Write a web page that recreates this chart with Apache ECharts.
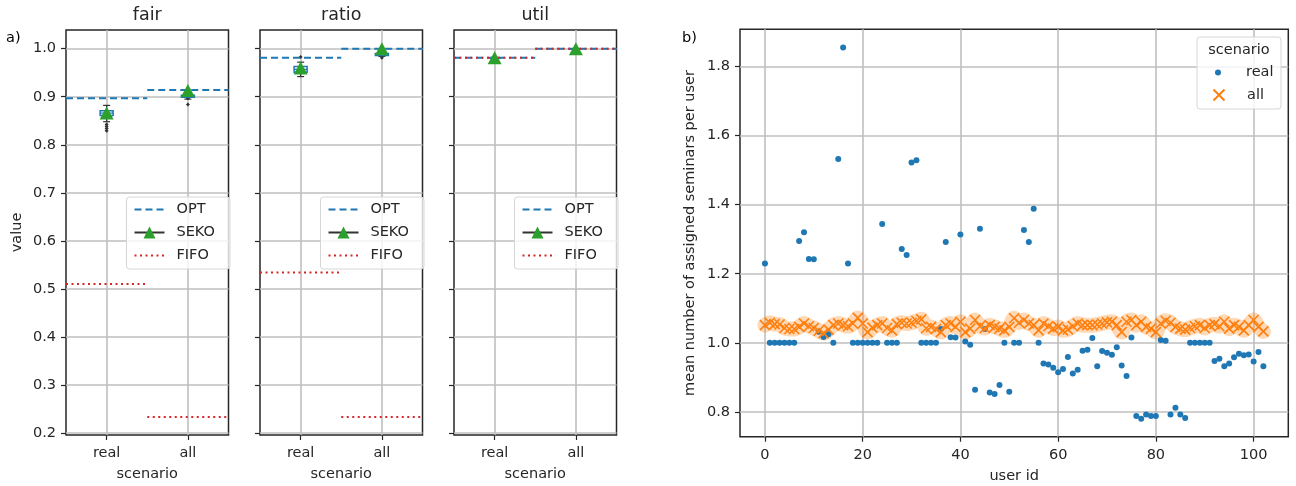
<!DOCTYPE html>
<html>
<head>
<meta charset="utf-8">
<script src="https://cdn.jsdelivr.net/npm/echarts@6/dist/echarts.min.js"></script>
<style>
html, body { margin: 0; padding: 0; background: #fff; }
#chart { width: 1296px; height: 486px; }
</style>
</head>
<body>
<div id="chart"></div>
<script>
// a) three panels: fair / ratio / util, per scenario
var scenarios = ['real', 'all'];
var valueTicks = [0.2, 0.3, 0.4, 0.5, 0.6, 0.7, 0.8, 0.9, 1.0];

var optFair = [0.897, 0.914];
var optRatio = [0.981, 1.0];
var optUtil = [0.981, 1.0];

var sekoFair = [0.866, 0.913];
var sekoRatio = [0.960, 1.0];
var sekoUtil = [0.981, 1.0];

var fifoFair = [0.510, 0.233];
var fifoRatio = [0.534, 0.233];
var fifoUtil = [0.981, 1.0];

// box stats [min, q1, median, q3, max]
var boxFair = [[0.848, 0.861, 0.866, 0.871, 0.882], [0.895, 0.899, 0.901, 0.903, 0.906]];
var boxRatio = [[0.942, 0.951, 0.957, 0.963, 0.972], [0.984, 0.986, 0.988, 0.990, 0.993]];
var boxUtil = [[0.980, 0.981, 0.981, 0.981, 0.982], [0.999, 1.0, 1.0, 1.0, 1.0]];

// outliers [scenario index, value]
var fliersFair = [[0, 0.842], [0, 0.838], [0, 0.834], [0, 0.829], [1, 0.897], [1, 0.884]];
var fliersRatio = [[0, 0.983], [1, 0.981], [1, 0.986]];
var fliersUtil = [];

// b) mean number of assigned seminars per user
var userTicks = [0, 20, 40, 60, 80, 100];
var seminarTicks = [0.8, 1.0, 1.2, 1.4, 1.6, 1.8];

var realVals = [
    1.23, 1, 1, 1, 1, 1, 1, 1.295, 1.32, 1.243,
    1.242, 1.032, 1.017, 1.025, 1, 1.532, 1.855, 1.23, 1, 1,
    1, 1, 1, 1, 1.344, 1, 1, 1, 1.272, 1.254,
    1.522, 1.529, 1, 1, 1, 1, 1.04, 1.292, 1.016, 1.015,
    1.314, 1.004, 0.994, 0.864, 1.33, 1.04, 0.856, 0.852, 0.878, 1,
    0.858, 1, 1, 1.327, 1.292, 1.388, 1, 0.94, 0.937, 0.928,
    0.915, 0.924, 0.959, 0.911, 0.922, 0.977, 0.98, 1.014, 0.932, 0.976,
    0.971, 0.965, 0.987, 0.934, 0.904, 1.015, 0.788, 0.78, 0.792, 0.788,
    0.788, 1.008, 1.006, 0.792, 0.812, 0.792, 0.782, 1, 1, 1,
    1, 1, 0.947, 0.954, 0.932, 0.94, 0.958, 0.968, 0.964, 0.966,
    0.946, 0.973, 0.932
];

var allVals = [
    1.051, 1.058, 1.054, 1.053, 1.043, 1.04, 1.04, 1.046, 1.056, 1.048,
    1.043, 1.035, 1.028, 1.038, 1.051, 1.056, 1.051, 1.048, 1.056, 1.072,
    1.056, 1.031, 1.044, 1.051, 1.056, 1.043, 1.036, 1.054, 1.058, 1.056,
    1.058, 1.063, 1.068, 1.042, 1.046, 1.04, 1.031, 1.051, 1.056, 1.046,
    1.061, 1.031, 1.041, 1.066, 1.048, 1.043, 1.051, 1.046, 1.041, 1.036,
    1.046, 1.071, 1.058, 1.066, 1.056, 1.051, 1.036, 1.056, 1.048, 1.041,
    1.046, 1.036, 1.039, 1.048, 1.056, 1.051, 1.051, 1.051, 1.053, 1.056,
    1.059, 1.061, 1.051, 1.031, 1.061, 1.066, 1.051, 1.061, 1.046, 1.041,
    1.031, 1.056, 1.064, 1.058, 1.046, 1.041, 1.038, 1.043, 1.048, 1.051,
    1.043, 1.051, 1.054, 1.048, 1.061, 1.041, 1.051, 1.046, 1.036, 1.051,
    1.066, 1.046, 1.033
];

var textColor = '#262626';
var gridColor = '#bfbfbf';
var frameColor = '#262626';
var fontSize = 14.5;

var panels = [
    { title: 'fair', opt: optFair, seko: sekoFair, fifo: fifoFair, box: boxFair, fliers: fliersFair },
    { title: 'ratio', opt: optRatio, seko: sekoRatio, fifo: fifoRatio, box: boxRatio, fliers: fliersRatio },
    { title: 'util', opt: optUtil, seko: sekoUtil, fifo: fifoUtil, box: boxUtil, fliers: fliersUtil }
];
var panelLefts = [66, 260, 454];
var panelWidth = 162.5;

// horizontal segment spanning each scenario band
function segments(vals) {
    var d = [];
    vals.forEach(function (v, i) {
        if (i > 0) d.push([i - 0.5, null]);
        d.push([i - 0.5, v], [i + 0.5, v]);
    });
    return d;
}

// box + whiskers drawn through the axes
function renderBox(params, api) {
    var x = api.value(0);
    var pMin = api.coord([x, api.value(1)]);
    var pQ1 = api.coord([x, api.value(2)]);
    var pMed = api.coord([x, api.value(3)]);
    var pQ3 = api.coord([x, api.value(4)]);
    var pMax = api.coord([x, api.value(5)]);
    var cx = pMin[0], hb = 6.5, hc = 3.5;
    var black = { stroke: '#333', lineWidth: 1.2 };
    return {
        type: 'group',
        children: [
            { type: 'line', shape: { x1: cx, y1: pMin[1], x2: cx, y2: pQ1[1] }, style: black },
            { type: 'line', shape: { x1: cx, y1: pQ3[1], x2: cx, y2: pMax[1] }, style: black },
            { type: 'line', shape: { x1: cx - hc, y1: pMin[1], x2: cx + hc, y2: pMin[1] }, style: black },
            { type: 'line', shape: { x1: cx - hc, y1: pMax[1], x2: cx + hc, y2: pMax[1] }, style: black },
            { type: 'rect', shape: { x: cx - hb, y: pQ3[1], width: 2 * hb, height: pQ1[1] - pQ3[1] },
              style: { fill: 'rgba(255,255,255,0.9)', stroke: '#1f77b4', lineWidth: 1.5 } },
            { type: 'line', shape: { x1: cx - hb, y1: pMed[1], x2: cx + hb, y2: pMed[1] },
              style: { stroke: '#1f77b4', lineWidth: 1.2 } }
        ]
    };
}

var grids = [], xAxes = [], yAxes = [], series = [], legends = [], graphics = [];

panels.forEach(function (p, k) {
    grids.push({
        left: panelLefts[k], top: 30, width: panelWidth, height: 405,
        show: true, borderColor: frameColor, borderWidth: 1.5, backgroundColor: '#fff',
        outerBoundsMode: 'none'
    });
    xAxes.push({
        gridIndex: k, type: 'value', min: -0.5, max: 1.5,
        axisLine: { show: false, onZero: false },
        axisTick: { show: true, customValues: [0, 1], length: 5, lineStyle: { color: frameColor, width: 1.2 } },
        axisLabel: {
            customValues: [0, 1], margin: 11, fontSize: fontSize, color: textColor,
            formatter: function (v) { return scenarios[v]; }
        },
        splitLine: { show: true, lineStyle: { color: gridColor, width: 1.6 } },
        name: 'scenario', nameLocation: 'middle', nameGap: 32,
        nameTextStyle: { fontSize: fontSize, color: textColor }
    });
    yAxes.push({
        gridIndex: k, type: 'value', min: 0.1955, max: 1.039,
        axisLine: { show: false, onZero: false },
        axisTick: { show: true, customValues: valueTicks, length: 5, lineStyle: { color: frameColor, width: 1.2 } },
        axisLabel: {
            show: k === 0, customValues: valueTicks, margin: 10, fontSize: fontSize, color: textColor,
            formatter: function (v) { return v.toFixed(1); }
        },
        splitLine: { show: true, lineStyle: { color: gridColor, width: 1.6 } },
        name: k === 0 ? 'value' : '', nameLocation: 'middle', nameGap: 41,
        nameTextStyle: { fontSize: fontSize, color: textColor }
    });

    series.push({
        type: 'custom', xAxisIndex: k, yAxisIndex: k, z: 3, silent: true,
        data: p.box.map(function (b, i) { return [i].concat(b); }),
        encode: { x: 0, y: [1, 2, 3, 4, 5] },
        renderItem: renderBox
    });
    series.push({
        type: 'scatter', xAxisIndex: k, yAxisIndex: k, silent: true, z: 2,
        symbol: 'diamond', symbolSize: 4, itemStyle: { color: '#333', opacity: 1 },
        data: p.fliers
    });
    series.push({
        name: 'OPT', type: 'line', xAxisIndex: k, yAxisIndex: k, z: 3,
        symbol: 'none', connectNulls: false,
        lineStyle: { color: '#1f77b4', width: 2, type: [7, 4] },
        itemStyle: { color: '#1f77b4' },
        data: segments(p.opt)
    });
    series.push({
        name: 'FIFO', type: 'line', xAxisIndex: k, yAxisIndex: k, z: 4,
        symbol: 'none', connectNulls: false,
        lineStyle: { color: '#d62728', width: 2, type: [2, 3.5] },
        itemStyle: { color: '#d62728' },
        data: segments(p.fifo)
    });
    series.push({
        name: 'SEKO', type: 'line', xAxisIndex: k, yAxisIndex: k, z: 6,
        symbol: 'triangle', symbolSize: [14, 13], showSymbol: true,
        itemStyle: { color: '#2ca02c', opacity: 1 },
        lineStyle: { opacity: 0 },
        data: p.seko.map(function (v, i) { return [i, v]; })
    });

    legends.push({
        data: [
            { name: 'OPT', itemStyle: { opacity: 0 } },
            { name: 'SEKO', lineStyle: { color: '#333', width: 2, opacity: 1 } },
            { name: 'FIFO', itemStyle: { opacity: 0 } }
        ],
        orient: 'vertical', left: panelLefts[k] + 60.5, top: 197,
        itemWidth: 30, itemHeight: 15, itemGap: 8, padding: [5, 15, 6, 7],
        textStyle: { fontSize: fontSize, color: textColor, padding: [0, 0, 0, 7] },
        backgroundColor: 'rgba(255,255,255,0.8)', borderColor: '#d6d6d6', borderWidth: 1, borderRadius: 3,
        selectedMode: false
    });

    graphics.push({
        type: 'text', x: panelLefts[k] + panelWidth / 2, y: 15, z: 10,
        style: { text: p.title, align: 'center', verticalAlign: 'middle', fontSize: 17.5, fontFamily: 'DejaVu Sans', fill: textColor }
    });
});

// b) scatter panel
grids.push({
    left: 740, top: 29.3, width: 548.3, height: 407.4,
    show: true, borderColor: frameColor, borderWidth: 1.5, backgroundColor: '#fff',
    outerBoundsMode: 'none'
});
xAxes.push({
    gridIndex: 3, type: 'value', min: -5.1, max: 107.1,
    axisLine: { show: false, onZero: false },
    axisTick: { show: true, customValues: userTicks, length: 5, lineStyle: { color: frameColor, width: 1.2 } },
    axisLabel: { customValues: userTicks, margin: 11, fontSize: fontSize, color: textColor },
    splitLine: { show: true, lineStyle: { color: gridColor, width: 1.6 } },
    name: 'user id', nameLocation: 'middle', nameGap: 32,
    nameTextStyle: { fontSize: fontSize, color: textColor }
});
yAxes.push({
    gridIndex: 3, type: 'value', min: 0.728, max: 1.908,
    axisLine: { show: false, onZero: false },
    axisTick: { show: true, customValues: seminarTicks, length: 5, lineStyle: { color: frameColor, width: 1.2 } },
    axisLabel: {
        customValues: seminarTicks, margin: 10, fontSize: fontSize, color: textColor,
        formatter: function (v) { return v.toFixed(1); }
    },
    splitLine: { show: true, lineStyle: { color: gridColor, width: 1.6 } },
    name: 'mean number of assigned seminars per user', nameLocation: 'middle', nameGap: 42,
    nameTextStyle: { fontSize: fontSize, color: textColor }
});

series.push({
    name: 'all band', type: 'line', xAxisIndex: 3, yAxisIndex: 3, z: 1, silent: true,
    symbol: 'none', smooth: 0.3,
    lineStyle: { color: 'rgba(255,127,14,0.3)', width: 15, cap: 'round', join: 'round' },
    data: allVals.map(function (v, i) { return [i, v]; })
});
series.push({
    name: 'real', type: 'scatter', xAxisIndex: 3, yAxisIndex: 3, z: 2,
    symbol: 'circle', symbolSize: 6,
    itemStyle: { color: '#1f77b4', opacity: 1 },
    data: realVals.map(function (v, i) { return [i, v]; })
});
series.push({
    name: 'all', type: 'scatter', xAxisIndex: 3, yAxisIndex: 3, z: 3,
    symbol: 'path://M0,0L10,10M10,0L0,10', symbolSize: 10,
    itemStyle: { color: 'rgba(0,0,0,0)', borderColor: '#ff7f0e', borderWidth: 1.6, opacity: 1 },
    data: allVals.map(function (v, i) { return [i, v]; })
});

legends.push({
    data: ['real'], left: 1215, top: 65, itemWidth: 6, itemHeight: 6, padding: 0,
    textStyle: { fontSize: fontSize, color: textColor, padding: [0, 0, 0, 20] }, selectedMode: false
});
legends.push({
    data: ['all'], left: 1212.5, top: 87.5, itemWidth: 11, itemHeight: 11, padding: 0,
    textStyle: { fontSize: fontSize, color: textColor, padding: [0, 0, 0, 17.5] }, selectedMode: false
});

graphics.push({
    type: 'rect', z: 3, silent: true,
    shape: { x: 1197, y: 37, width: 84, height: 72, r: 3 },
    style: { fill: 'rgba(255,255,255,0.8)', stroke: '#d6d6d6', lineWidth: 1 }
});
graphics.push({
    type: 'text', x: 1239, y: 50, z: 10,
    style: { text: 'scenario', align: 'center', verticalAlign: 'middle', fontSize: fontSize, fontFamily: 'DejaVu Sans', fill: textColor }
});
graphics.push({
    type: 'text', x: 6, y: 38, z: 10,
    style: { text: 'a)', align: 'left', verticalAlign: 'middle', fontSize: fontSize, fontFamily: 'DejaVu Sans', fill: '#000' }
});
graphics.push({
    type: 'text', x: 682, y: 38, z: 10,
    style: { text: 'b)', align: 'left', verticalAlign: 'middle', fontSize: fontSize, fontFamily: 'DejaVu Sans', fill: '#000' }
});

var myChart = echarts.init(document.getElementById('chart'));
myChart.setOption({
    animation: false,
    backgroundColor: '#fff',
    textStyle: { fontFamily: 'DejaVu Sans' },
    grid: grids,
    xAxis: xAxes,
    yAxis: yAxes,
    legend: legends,
    graphic: graphics,
    series: series
});
</script>
</body>
</html>
